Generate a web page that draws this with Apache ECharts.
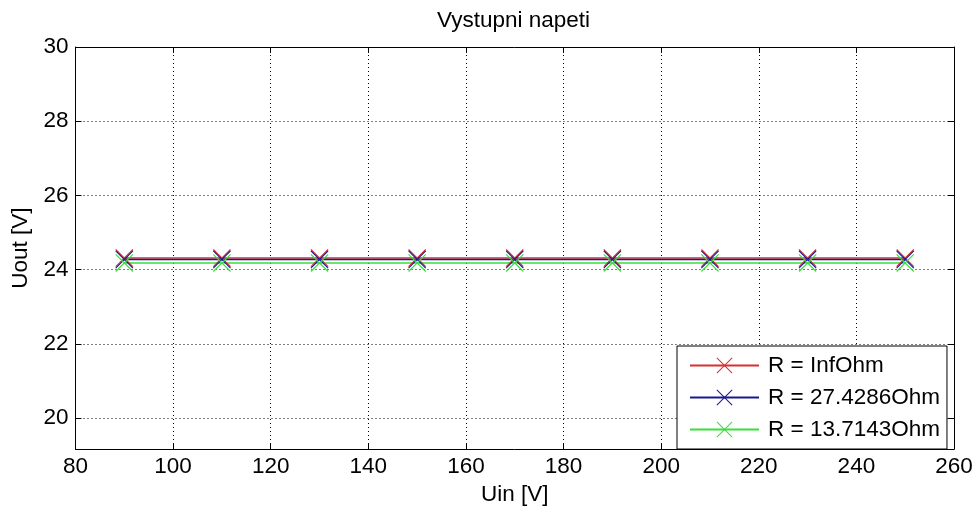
<!DOCTYPE html>
<html>
<head>
<meta charset="utf-8">
<script src="https://cdn.jsdelivr.net/npm/echarts@6/dist/echarts.min.js"></script>
<style>
html,body{margin:0;padding:0;background:#fff;}
#chart{width:976px;height:511px;}
</style>
</head>
<body>
<div id="chart"></div>
<script>
var uin = [90, 110, 130, 150, 170, 190, 210, 230, 250];
var rInf = [24.31, 24.31, 24.31, 24.31, 24.31, 24.31, 24.31, 24.31, 24.31];
var r27 = [24.27, 24.27, 24.27, 24.27, 24.27, 24.27, 24.27, 24.27, 24.27];
var r13 = [24.18, 24.18, 24.18, 24.18, 24.18, 24.18, 24.18, 24.18, 24.18];
var seriesNames = ['R = InfOhm', 'R = 27.4286Ohm', 'R = 13.7143Ohm'];
var xTicks = [80, 100, 120, 140, 160, 180, 200, 220, 240, 260];
var yTicks = [20, 22, 24, 26, 28, 30];
var titleText = 'Vystupni napeti';
var xName = 'Uin [V]';
var yName = 'Uout [V]';

var FONT = 'Liberation Sans, Arial, sans-serif';
var FS = 22.5;
var xMark = 'path://M0,0.45L0.45,0L10,9.55L9.55,10Z M9.55,0L10,0.45L0.45,10L0,9.55Z';

function pairs(ys) { return uin.map(function (x, i) { return [x, ys[i]]; }); }

function mkSeries(name, ys, color) {
  return {
    name: name, type: 'line', data: pairs(ys),
    symbol: xMark, symbolSize: 18, showSymbol: true,
    lineStyle: { color: color, width: 1.5 },
    itemStyle: { color: color },
    emphasis: { disabled: true },
    animation: false
  };
}

var gridStyle = { show: true, lineStyle: { color: '#000', width: 1, type: [1, 3] } };

var chart = echarts.init(document.getElementById('chart'), null, { renderer: 'canvas' });
chart.setOption({
  animation: false,
  backgroundColor: '#fff',
  title: {
    text: titleText, left: 432, top: 4,
    textStyle: { fontFamily: FONT, fontSize: FS, fontWeight: 'normal', color: '#000' }
  },
  grid: { left: 75.5, right: 22, top: 47, bottom: 60, containLabel: false },
  legend: {
    data: seriesNames, orient: 'vertical', left: 677, top: 346,
    itemWidth: 69, itemHeight: 20, itemGap: 9,
    padding: [8, 7, 8, 12],
    backgroundColor: '#fff', borderColor: '#000', borderWidth: 1,
    textStyle: { fontFamily: FONT, fontSize: FS, color: '#000', padding: [0, 0, 0, 4] }
  },
  xAxis: [{
    type: 'value', min: 80, max: 260, interval: 20,
    name: xName, nameLocation: 'middle', nameGap: 26,
    nameTextStyle: { fontFamily: FONT, fontSize: FS, color: '#000' },
    axisLine: { show: true, onZero: false, lineStyle: { color: '#000', width: 1 } },
    axisTick: { show: true, inside: true, length: 6, lineStyle: { color: '#000' } },
    axisLabel: { fontFamily: FONT, fontSize: FS, color: '#000', margin: 6 },
    splitLine: gridStyle
  }, {
    type: 'value', min: 80, max: 260, interval: 20, position: 'top',
    axisLine: { show: true, onZero: false, lineStyle: { color: '#000', width: 1 } },
    axisTick: { show: true, inside: true, length: 6, lineStyle: { color: '#000' } },
    axisLabel: { show: false }, splitLine: { show: false }
  }],
  yAxis: [{
    type: 'value', min: 19.16, max: 30,
    name: yName, nameLocation: 'middle', nameGap: 42,
    nameTextStyle: { fontFamily: FONT, fontSize: FS, color: '#000' },
    axisLine: { show: true, onZero: false, lineStyle: { color: '#000', width: 1 } },
    axisTick: { show: true, inside: true, length: 6, customValues: yTicks, lineStyle: { color: '#000' } },
    axisLabel: { fontFamily: FONT, fontSize: FS, color: '#000', margin: 7, customValues: yTicks },
    splitLine: gridStyle
  }, {
    type: 'value', min: 19.16, max: 30, position: 'right',
    axisLine: { show: true, onZero: false, lineStyle: { color: '#000', width: 1 } },
    axisTick: { show: true, inside: true, length: 6, customValues: yTicks, lineStyle: { color: '#000' } },
    axisLabel: { show: false }, splitLine: { show: false }
  }],
  series: [
    mkSeries(seriesNames[0], rInf, '#d83030'),
    mkSeries(seriesNames[1], r27, '#181890'),
    mkSeries(seriesNames[2], r13, '#38e038')
  ]
});
</script>
</body>
</html>
